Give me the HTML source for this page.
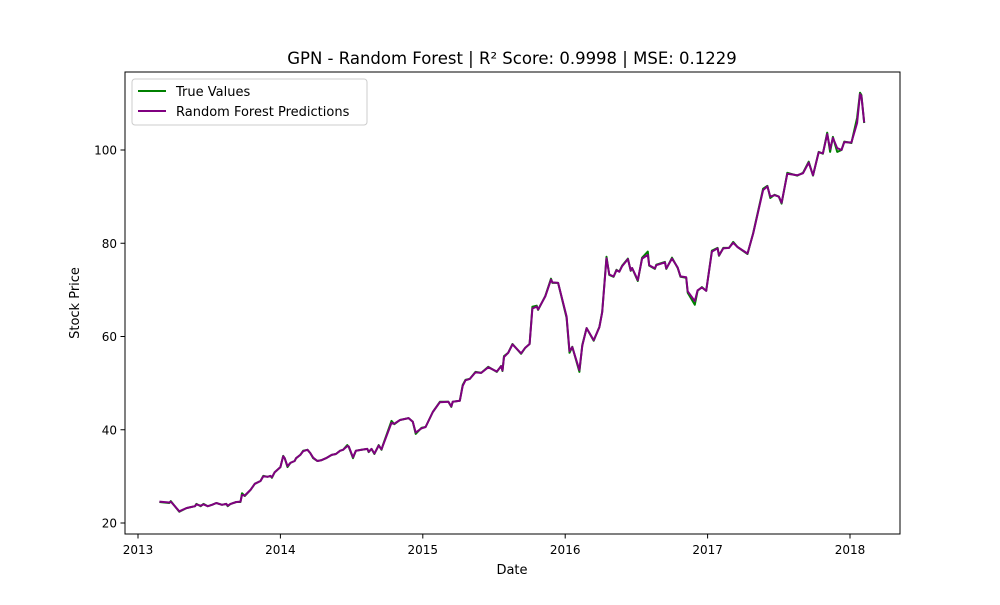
<!DOCTYPE html>
<html><head><meta charset="utf-8"><style>
body{margin:0;background:#fff;font-family:"Liberation Sans","DejaVu Sans",sans-serif}
svg text{font-family:"DejaVu Sans","Liberation Sans",sans-serif}
</style></head><body>
<svg id="chart" width="1000" height="600" xmlns="http://www.w3.org/2000/svg">
<rect width="1000" height="600" fill="#fff"/>
<text x="512" y="64" text-anchor="middle" font-size="16.5">GPN - Random Forest | R² Score: 0.9998 | MSE: 0.1229</text>
<g id="plot"></g>
<rect x="125" y="72" width="775" height="462" fill="none" stroke="#000" stroke-width="1"/>
<g id="xticks"></g>
<g id="yticks"></g>
<text x="512" y="574" text-anchor="middle" font-size="13">Date</text>
<text transform="translate(79,303) rotate(-90)" text-anchor="middle" font-size="13">Stock Price</text>
<g>
<rect x="132" y="79" width="235" height="46" rx="3" fill="#fff" fill-opacity="0.8" stroke="#ccc"/>
<line x1="138" y1="91" x2="166" y2="91" stroke="green" stroke-width="2"/>
<text x="176" y="96" font-size="13">True Values</text>
<line x1="138" y1="111" x2="166" y2="111" stroke="purple" stroke-width="2"/>
<text x="176" y="116" font-size="13">Random Forest Predictions</text>
</g>
</svg>
<script>
const dates=[2013.15,2013.22,2013.23,2013.29,2013.34,2013.37,2013.40,2013.41,2013.44,2013.46,2013.49,2013.52,2013.55,2013.59,2013.62,2013.63,2013.65,2013.69,2013.72,2013.73,2013.75,2013.79,2013.82,2013.86,2013.88,2013.91,2013.93,2013.94,2013.96,2014.00,2014.02,2014.03,2014.05,2014.07,2014.10,2014.11,2014.14,2014.16,2014.19,2014.21,2014.23,2014.26,2014.29,2014.32,2014.36,2014.39,2014.42,2014.44,2014.47,2014.48,2014.51,2014.53,2014.57,2014.61,2014.62,2014.64,2014.66,2014.69,2014.71,2014.72,2014.78,2014.80,2014.84,2014.90,2014.93,2014.95,2014.99,2015.02,2015.07,2015.12,2015.18,2015.20,2015.21,2015.26,2015.28,2015.30,2015.33,2015.37,2015.41,2015.46,2015.52,2015.55,2015.56,2015.57,2015.60,2015.63,2015.69,2015.72,2015.75,2015.77,2015.80,2015.81,2015.86,2015.90,2015.91,2015.95,2016.01,2016.03,2016.05,2016.10,2016.12,2016.15,2016.20,2016.24,2016.26,2016.29,2016.31,2016.34,2016.36,2016.38,2016.40,2016.44,2016.46,2016.47,2016.51,2016.54,2016.58,2016.59,2016.63,2016.64,2016.70,2016.71,2016.75,2016.79,2016.81,2016.85,2016.86,2016.91,2016.93,2016.96,2016.99,2017.03,2017.07,2017.08,2017.11,2017.15,2017.18,2017.21,2017.28,2017.32,2017.39,2017.42,2017.44,2017.47,2017.50,2017.52,2017.56,2017.63,2017.67,2017.71,2017.74,2017.78,2017.81,2017.84,2017.86,2017.88,2017.91,2017.94,2017.96,2018.01,2018.05,2018.07,2018.08,2018.10];
const trueValues=[24.5,24.3,24.7,22.4,23.2,23.4,23.6,24.1,23.6,24.1,23.6,23.9,24.3,23.9,24.1,23.6,24.1,24.5,24.5,26.4,25.8,27.1,28.4,29.0,30.1,29.9,30.1,29.7,30.9,32.0,34.4,33.9,32.0,32.9,33.3,33.9,34.6,35.5,35.7,35.0,33.9,33.3,33.5,33.9,34.6,34.8,35.5,35.7,36.7,36.3,33.9,35.5,35.7,35.9,35.2,35.9,34.8,36.7,35.7,36.7,41.9,41.2,42.1,42.5,41.7,39.1,40.4,40.6,43.8,46.0,46.0,44.9,46.0,46.2,49.6,50.7,50.9,52.4,52.2,53.5,52.4,53.7,52.6,55.8,56.5,58.4,56.3,57.6,58.4,66.4,66.6,65.7,68.7,72.4,71.5,71.5,64.0,56.5,57.8,52.4,58.2,61.8,59.1,62.1,65.3,77.1,73.2,72.8,74.3,73.9,75.2,76.7,74.1,74.7,71.9,76.9,78.2,75.2,74.5,75.4,76.0,74.5,76.9,74.7,72.8,72.6,69.4,66.8,69.8,70.6,69.8,78.4,79.0,77.3,79.0,79.0,80.3,79.2,77.7,82.2,91.7,92.3,89.7,90.4,90.0,88.5,95.1,94.5,95.1,97.5,94.5,99.6,99.2,103.7,99.6,102.8,99.6,100.0,101.8,101.5,106.9,112.3,111.8,105.8];
const predValues=[24.6,24.4,24.6,22.5,23.2,23.4,23.6,24.0,23.7,24.0,23.6,23.9,24.3,23.9,24.1,23.7,24.1,24.5,24.6,26.0,25.9,27.1,28.4,29.0,30.0,29.9,30.1,29.8,30.9,32.0,34.3,33.9,32.2,32.9,33.3,33.9,34.6,35.4,35.7,35.0,34.0,33.3,33.5,33.9,34.6,34.8,35.5,35.7,36.5,36.4,34.1,35.5,35.7,35.9,35.3,35.9,34.9,36.6,35.8,36.6,41.5,41.3,42.1,42.5,41.7,39.4,40.3,40.6,43.8,45.9,46.0,45.0,46.0,46.2,49.4,50.6,50.9,52.3,52.2,53.4,52.5,53.6,52.7,55.6,56.5,58.3,56.4,57.6,58.4,66.0,66.4,65.8,68.6,72.2,71.6,71.5,64.3,56.9,57.7,52.8,58.0,61.8,59.2,62.0,65.2,76.8,73.3,72.9,74.2,73.9,75.1,76.6,74.2,74.7,72.1,76.7,77.5,75.3,74.6,75.3,75.9,74.6,76.7,74.8,72.9,72.7,69.7,67.6,69.9,70.5,69.8,78.2,78.9,77.4,78.9,79.0,80.1,79.2,77.8,82.1,91.4,92.2,90.0,90.3,90.0,88.7,94.9,94.6,95.0,97.3,94.6,99.5,99.3,103.4,100.2,102.6,100.4,100.0,101.7,101.6,105.8,112.0,111.6,105.9];
const xTickLabels=["2013","2014","2015","2016","2017","2018"];
const yTickLabels=["20","40","60","80","100"];
const NS="http://www.w3.org/2000/svg";
function xs(d){return 138+(d-2013)*142.4;}
function ys(v){return 523-(v-20)*4.6625;}
const plot=document.getElementById('plot');
function line(vals,color,name){
  const p=document.createElementNS(NS,'polyline');
  p.setAttribute('points',vals.map((v,i)=>xs(dates[i]).toFixed(1)+','+ys(v).toFixed(1)).join(' '));
  p.setAttribute('fill','none');p.setAttribute('stroke',color);p.setAttribute('stroke-width','2');p.setAttribute('stroke-linejoin','round');
  
  
  plot.appendChild(p);
}
line(trueValues,'green','true-values-line');
line(predValues,'purple','predictions-line');
const xt=document.getElementById('xticks');
xTickLabels.forEach(l=>{
  const x=xs(+l);
  const t=document.createElementNS(NS,'line');
  t.setAttribute('x1',x);t.setAttribute('x2',x);t.setAttribute('y1',534);t.setAttribute('y2',538.5);t.setAttribute('stroke','#000');
  
  
  xt.appendChild(t);
  const s=document.createElementNS(NS,'text');
  s.setAttribute('x',x);s.setAttribute('y',554);s.setAttribute('text-anchor','middle');s.setAttribute('font-size','12');
  s.textContent=l;
  
  
  xt.appendChild(s);
});
const yt=document.getElementById('yticks');
yTickLabels.forEach(l=>{
  const y=ys(+l);
  const t=document.createElementNS(NS,'line');
  t.setAttribute('x1',120.5);t.setAttribute('x2',125);t.setAttribute('y1',y);t.setAttribute('y2',y);t.setAttribute('stroke','#000');
  
  
  yt.appendChild(t);
  const s=document.createElementNS(NS,'text');
  s.setAttribute('x',117);s.setAttribute('y',y+4.5);s.setAttribute('text-anchor','end');s.setAttribute('font-size','12');
  s.textContent=l;
  
  
  yt.appendChild(s);
});
</script>
</body></html>
